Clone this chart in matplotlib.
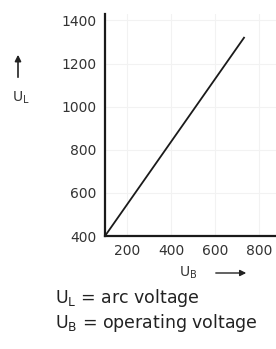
import matplotlib.pyplot as plt

plt.rcParams['font.family'] = ['DejaVu Sans']

# data
u_b = [100, 730]
u_l = [400, 1320]
xticks = [200, 400, 600, 800]
yticks = [400, 600, 800, 1000, 1200, 1400]

fig = plt.figure(figsize=(2.76, 3.49), dpi=100)
ax = fig.add_axes([105/276, 1 - 236/349, 171/276, 222/349])

ax.plot(u_b, u_l, color='#1a1a1a', lw=1.3)
ax.set_xlim(100, 875)
ax.set_ylim(400, 1430)
ax.set_xticks(xticks)
ax.set_yticks(yticks)
ax.tick_params(length=0, labelsize=10, colors='#333333')
ax.tick_params(axis='x', pad=6)
ax.tick_params(axis='y', pad=6)
for s in ['top', 'right']:
    ax.spines[s].set_visible(False)
for s in ['left', 'bottom']:
    ax.spines[s].set_linewidth(1.6)
    ax.spines[s].set_color('#1a1a1a')
ax.grid(color='#f2f2f2', lw=0.8)

# axis labels with arrows
fig.text(21/276, 1 - 98/349, r'U$_\mathregular{L}$', fontsize=10, color='#333333', ha='center', va='center')
ax.annotate('', xy=(18/276, 1 - 52/349), xytext=(18/276, 1 - 80/349), xycoords='figure fraction',
            arrowprops=dict(arrowstyle='-|>', color='#222222', lw=1.2, mutation_scale=9))

fig.text(188/276, 1 - 273/349, r'U$_\mathregular{B}$', fontsize=10, color='#333333', ha='center', va='center')
ax.annotate('', xy=(249/276, 1 - 273/349), xytext=(213/276, 1 - 273/349), xycoords='figure fraction',
            arrowprops=dict(arrowstyle='-|>', color='#222222', lw=1.0, mutation_scale=9))

fig.text(55/276, 1 - 298/349, r'U$_\mathregular{L}$ = arc voltage', fontsize=12.5, color='#222222', va='center')
fig.text(55/276, 1 - 323/349, r'U$_\mathregular{B}$ = operating voltage', fontsize=12.5, color='#222222', va='center')

fig.savefig('out.png', dpi=100)
